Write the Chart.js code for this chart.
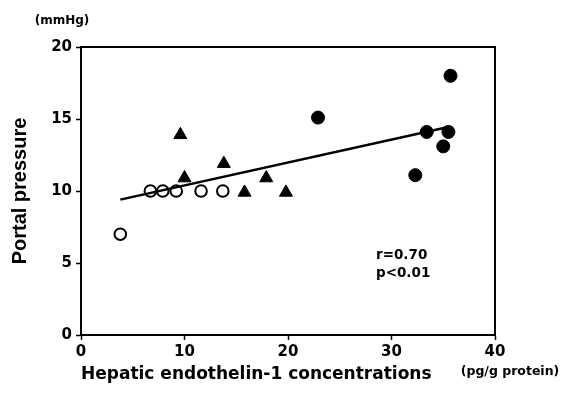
<!DOCTYPE html>
<html><head><meta charset="utf-8">
<script src="https://cdn.jsdelivr.net/npm/chart.js@4"></script>
<style>html,body{margin:0;padding:0;background:#fff;}canvas{display:block;}</style>
</head><body>
<canvas id="c" width="562" height="407"></canvas>
<script>
const xTicks = [0, 10, 20, 30, 40];
const yTicks = [0, 5, 10, 15, 20];
const group1X = [3.8, 6.7, 7.9, 9.2, 11.6, 13.7];
const group1Y = [7.0, 10.0, 10.0, 10.0, 10.0, 10.0];
const group2X = [9.6, 10.0, 13.8, 15.8, 17.9, 19.8];
const group2Y = [13.9, 10.9, 11.9, 9.9, 10.9, 9.9];
const group3X = [22.9, 32.3, 33.4, 35.0, 35.5, 35.7];
const group3Y = [15.1, 11.1, 14.1, 13.1, 14.1, 18.0];
const fitX = [3.8, 35.5];
const fitY = [9.4, 14.45];
const xTitle = 'Hepatic endothelin-1 concentrations';
const yTitle = 'Portal pressure';
const yUnit = '(mmHg)';
const xUnit = '(pg/g protein)';
const statLines = ['r=0.70', 'p<0.01'];

const pts = (xs, ys) => xs.map((x, i) => ({x: x, y: ys[i]}));

const extras = {
  id: 'extras',
  beforeDatasetsDraw(chart) {
    const {ctx, chartArea: a} = chart;
    ctx.save();
    ctx.strokeStyle = '#000';
    ctx.lineWidth = 2;
    ctx.beginPath();
    ctx.moveTo(a.left, a.top);
    ctx.lineTo(a.right, a.top);
    ctx.lineTo(a.right, a.bottom);
    ctx.stroke();
    ctx.restore();
  },
  afterDraw(chart) {
    const {ctx} = chart;
    ctx.save();
    ctx.fillStyle = '#000';
    ctx.textBaseline = 'middle';
    ctx.textAlign = 'center';
    ctx.font = 'bold 12px "DejaVu Sans"';
    ctx.fillText(yUnit, 62, 21);
    ctx.font = 'bold 12.5px "DejaVu Sans"';
    ctx.fillText(xUnit, 510, 372);
    ctx.textAlign = 'left';
    ctx.font = 'bold 13.5px "DejaVu Sans"';
    ctx.fillText(statLines[0], 376, 255);
    ctx.fillText(statLines[1], 376, 273);
    ctx.restore();
  }
};

new Chart(document.getElementById('c'), {
  type: 'scatter',
  data: {
    datasets: [
      {type: 'line', label: 'fit', data: pts(fitX, fitY), borderColor: '#000', borderWidth: 2.5,
       pointRadius: 0, fill: false, tension: 0, order: 2},
      {label: 'open', data: pts(group1X, group1Y), pointStyle: 'circle', pointRadius: 5.8,
       pointBorderWidth: 2, borderColor: '#000', backgroundColor: 'rgba(0,0,0,0)', order: 1},
      {label: 'triangle', data: pts(group2X, group2Y), pointStyle: 'triangle', pointRadius: 7.5,
       pointBorderWidth: 1, borderColor: '#000', backgroundColor: '#000', order: 1},
      {label: 'filled', data: pts(group3X, group3Y), pointStyle: 'circle', pointRadius: 6.5,
       pointBorderWidth: 1, borderColor: '#000', backgroundColor: '#000', order: 1}
    ]
  },
  options: {
    responsive: false,
    animation: false,
    devicePixelRatio: 1,
    layout: {padding: {left: 8, top: 47, right: 67, bottom: 22}},
    plugins: {legend: {display: false}, tooltip: {enabled: false}},
    scales: {
      x: {
        type: 'linear', min: 0, max: 40,
        afterBuildTicks: s => { s.ticks = xTicks.map(v => ({value: v})); },
        afterFit: s => { s.height = 50; },
        grid: {display: true, drawOnChartArea: false, drawTicks: true, tickLength: 5, tickColor: '#000', tickWidth: 1.5},
        border: {display: true, color: '#000', width: 2},
        ticks: {color: '#000', padding: 3, maxRotation: 0, font: {family: '"DejaVu Sans"', weight: 'bold', size: 15}},
        title: {display: true, text: xTitle, align: 'start', color: '#000', padding: 0,
                font: {family: '"DejaVu Sans"', weight: 'bold', size: 17}}
      },
      y: {
        type: 'linear', min: 0, max: 20,
        afterBuildTicks: s => { s.ticks = yTicks.map(v => ({value: v})); },
        afterFit: s => { s.width = 73; },
        grid: {display: true, drawOnChartArea: false, drawTicks: true, tickLength: 5, tickColor: '#000', tickWidth: 1.5},
        border: {display: true, color: '#000', width: 2},
        ticks: {color: '#000', padding: 4, font: {family: '"DejaVu Sans"', weight: 'bold', size: 15}},
        title: {display: true, text: yTitle, color: '#000', padding: 0,
                font: {family: '"Liberation Sans", Arial', weight: 'bold', size: 20}}
      }
    }
  },
  plugins: [extras]
});
</script>
</body></html>
